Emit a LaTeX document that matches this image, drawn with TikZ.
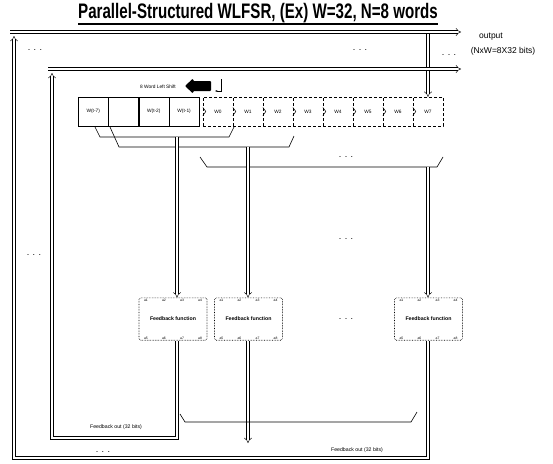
\documentclass[tikz,border=0pt]{standalone}
\usepackage{fontspec}
\setmainfont{Liberation Sans}
\usepackage{graphicx}
\usetikzlibrary{arrows.meta}

\tikzset{
  bus/.style={double, double distance=2.4pt, line width=0.45pt, -{Implies}},
  regcell/.style={draw, line width=0.5pt, minimum width=30pt, minimum height=29pt, inner sep=0pt, font=\fontsize{4.8}{5}\selectfont},
  dashcell/.style={regcell, densely dashed, line width=0.35pt},
  fbbox/.style={draw, densely dotted, line width=0.6pt, rounded corners=1.5pt, minimum width=68pt, minimum height=42pt, inner sep=1pt, align=center},
  grp/.style={line width=0.6pt},
  dots/.style={font=\fontsize{9}{9}\selectfont},
  small/.style={font=\fontsize{5.2}{6}\selectfont}
}
\newcommand{\coefrow}[4]{\makebox[58pt]{\fontsize{3.4}{4}\selectfont #1\hfill #2\hfill #3\hfill #4}}
\newcommand{\fbtext}{\coefrow{a1}{a2}{a3}{a4}\\[7pt]{\fontsize{5.2}{6}\selectfont\bfseries Feedback function}\\[7pt]\coefrow{a5}{a6}{a7}{a8}}

\begin{document}
\begin{tikzpicture}[x=1pt,y=-1pt]
\useasboundingbox (0,0) rectangle (553,463);

% title
\node[inner sep=1pt] (title) at (258,13) {\fontsize{21}{22}\selectfont\bfseries\scalebox{0.72}[1]{Parallel-Structured WLFSR, (Ex) W=32, N=8 words}};
\draw[line width=1.2pt] ([xshift=1pt]title.south west) -- ([xshift=-1pt]title.south east);

% output buses
\coordinate (top0) at (10,32);
\coordinate (top1) at (461,32);
\coordinate (sec0) at (48,69);
\coordinate (sec1) at (461,69);
\coordinate (tap) at (428,34);
\node[font=\fontsize{8.5}{9}\selectfont] (outlbl) at (491,37) {output};
\node[font=\fontsize{8.5}{9}\selectfont] (outwd) at (503,51) {(NxW=8X32 bits)};

% register
\foreach \t [count=\i from 0] in {W(t-7),{},W(t-2),W(t-1)}
  \node[regcell] (c\i) at (93.2+30.3*\i,111.5) {\t};
\foreach \i in {0,...,7}
  \node[dashcell] (w\i) at (218+30*\i,111.5) {W\i};
\foreach \i in {0,...,7}
  \draw[line width=0.5pt] ([yshift=4pt]w\i.west) -- ++(3,4) -- ++(-3,4);

\draw[bus] (tap) -- (w7.north);
\draw[bus] (top0) -- (top1);
\draw[bus] (sec0) -- (sec1);

% shift
\node[font=\fontsize{4.8}{5}\selectfont] (shiftlbl) at (158,87) {8 Word Left Shift};
\fill[rounded corners=1pt] (211,81) -- (193,81) -- (193,78.5) -- (185,86) -- (193,93.5) -- (193,91) -- (211,91) -- cycle;
\draw[-{Stealth[length=2.5pt]}, line width=0.4pt] (221,79) -- (221,91) -- (215,91);

% word groups
\draw[grp] (95,127) -- (100,137) -- (229,137) -- (234,127);
\draw[grp] (110,127) -- (119,147) -- (289,147) -- (294,136);
\draw[grp] (200,157) -- (207,167) -- (437,167) -- (443,157);
\coordinate (ga) at (177,137);
\coordinate (gb) at (248,147);
\coordinate (gc) at (428,167);

% feedback functions
\node[fbbox] (fb1) at (173,319) {\fbtext};
\node[fbbox] (fb2) at (248.5,319) {\fbtext};
\node[fbbox] (fb3) at (428.5,319) {\fbtext};

\draw[bus] (ga) -- (ga |- fb1.north);
\draw[bus] (gb) -- (gb |- fb2.north);
\draw[bus] (gc) -- (gc |- fb3.north);

% feedback out
\coordinate (lp2) at (52,438);
\coordinate (lp3) at (52,73);
\coordinate (fb2end) at (248,443);
\coordinate (ob) at (14,458);
\coordinate (ot) at (14,36);
\draw[bus] (ga |- fb1.south) |- (lp2) -- (lp3);
\draw[bus] (gb |- fb2.south) -- (fb2end);
\draw[bus] (gc |- fb3.south) |- (ob) -- (ot);
\draw[grp] (180,414) -- (185,422) -- (411,422) -- (417,412);
\node[small] (fo1) at (116,427) {Feedback out (32 bits)};
\node[small] (fo2) at (357,450) {Feedback out (32 bits)};

% dots
\foreach \p in {(35,50),(360,50),(449,55),(34,255),(346,157),(346,239),(346,319),(103,452)}
  \node[dots] at \p {. . .};
\end{tikzpicture}
\end{document}
